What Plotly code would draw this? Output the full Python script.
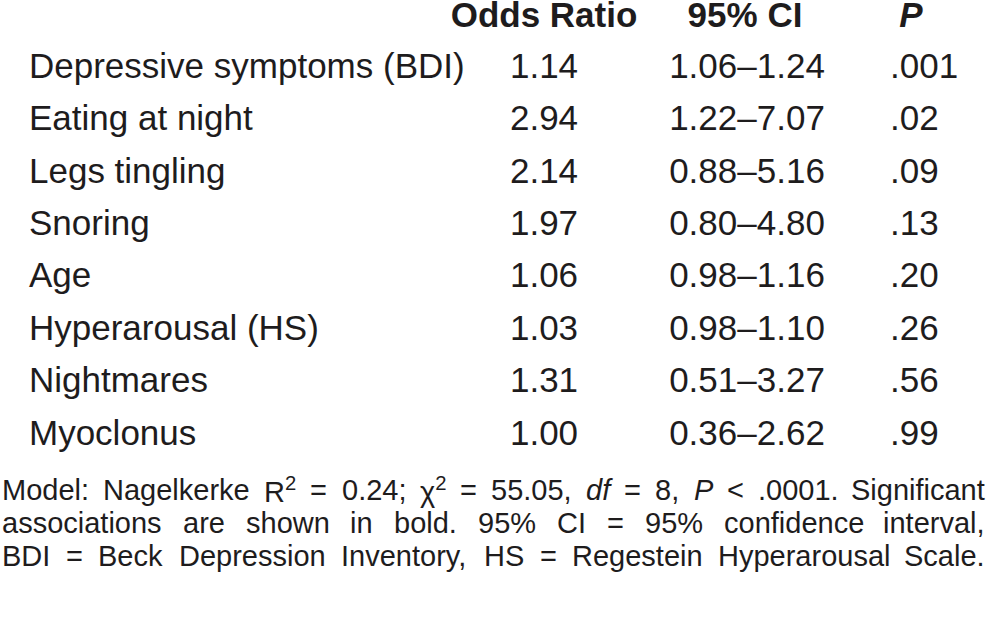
import re
import plotly.graph_objects as go

labels = ["Depressive symptoms (BDI)", "Eating at night", "Legs tingling", "Snoring",
          "Age", "Hyperarousal (HS)", "Nightmares", "Myoclonus"]
odds_ratio = [1.14, 2.94, 2.14, 1.97, 1.06, 1.03, 1.31, 1.00]
ci_low = [1.06, 1.22, 0.88, 0.80, 0.98, 0.98, 0.51, 0.36]
ci_high = [1.24, 7.07, 5.16, 4.80, 1.16, 1.10, 3.27, 2.62]
p_values = [".001", ".02", ".09", ".13", ".20", ".26", ".56", ".99"]
headers = ["Odds Ratio", "95% CI", "<i>P</i>"]

footnote_lines = [
    ["Model:", "Nagelkerke", "R<sup>2</sup>", "=", "0.24;", "χ<sup>2</sup>", "=", "55.05,",
     "<i>df</i>", "=", "8,", "<i>P</i>", "&lt;", ".0001.", "Significant"],
    ["associations", "are", "shown", "in", "bold.", "95%", "CI", "=", "95%", "confidence", "interval,"],
    ["BDI", "=", "Beck", "Depression", "Inventory,", "HS", "=", "Regestein", "Hyperarousal", "Scale."],
]

FONT = "Liberation Sans, Arial, sans-serif"
TXT = "#1e1c1d"
W, H = 989, 622
BODY = 35

rows = list(range(len(labels)))
ci_text = [f"{a:.2f}–{b:.2f}" for a, b in zip(ci_low, ci_high)]
or_text = [f"{v:.2f}" for v in odds_ratio]

fig = go.Figure()
tf = dict(family=FONT, size=BODY, color=TXT)
fig.add_trace(go.Scatter(x=[29] * len(rows), y=rows, text=labels, mode="text",
                         textposition="middle right", textfont=tf, hoverinfo="skip"))
fig.add_trace(go.Scatter(x=[544] * len(rows), y=rows, text=or_text, mode="text",
                         textposition="middle center", textfont=tf, hoverinfo="skip"))
fig.add_trace(go.Scatter(x=[747] * len(rows), y=rows, text=ci_text, mode="text",
                         textposition="middle center", textfont=tf, hoverinfo="skip"))
fig.add_trace(go.Scatter(x=[890] * len(rows), y=rows, text=p_values, mode="text",
                         textposition="middle right", textfont=tf, hoverinfo="skip"))
fig.add_trace(go.Scatter(x=[544, 745, 911], y=[-0.96, -0.96, -0.96],
                         text=[f"<b>{h}</b>" for h in headers], mode="text",
                         textposition="middle center", textfont=tf, hoverinfo="skip"))

# Arial / Liberation Sans advance widths (per em) for justifying the footnote
AW = {' ': .278, '.': .278, ',': .278, ':': .278, ';': .278, '=': .584, '<': .584, '%': .889,
      '0': .556, '1': .556, '2': .556, '3': .556, '4': .556, '5': .556, '6': .556, '7': .556,
      '8': .556, '9': .556, 'χ': .5,
      'A': .667, 'B': .667, 'C': .722, 'D': .722, 'E': .667, 'F': .611, 'G': .778, 'H': .722,
      'I': .278, 'J': .5, 'K': .667, 'L': .556, 'M': .833, 'N': .722, 'O': .778, 'P': .667,
      'Q': .778, 'R': .722, 'S': .667, 'T': .611, 'U': .722, 'V': .667, 'W': .944, 'X': .667,
      'Y': .667, 'Z': .611,
      'a': .556, 'b': .556, 'c': .5, 'd': .556, 'e': .556, 'f': .278, 'g': .556, 'h': .556,
      'i': .222, 'j': .222, 'k': .5, 'l': .222, 'm': .833, 'n': .556, 'o': .556, 'p': .556,
      'q': .556, 'r': .333, 's': .5, 't': .278, 'u': .556, 'v': .5, 'w': .722, 'x': .5,
      'y': .5, 'z': .5}


def word_width(html, size):
    w = 0.0
    for part in re.split(r"(<sup>.*?</sup>)", html):
        if part.startswith("<sup>"):
            w += sum(AW.get(c, .556) for c in part[5:-6]) * 0.7
        else:
            plain = re.sub(r"</?[bi]>", "", part).replace("&lt;", "<")
            w += sum(AW.get(c, .556) for c in plain)
    return w * size


FS = 29
line_y = [490, 523, 556]
LEFT, RIGHT = 1, 986
for words, py in zip(footnote_lines, line_y):
    widths = [word_width(w, FS) for w in words]
    gap = (RIGHT - LEFT - sum(widths)) / (len(words) - 1)
    x = LEFT
    for i, (w, wd) in enumerate(zip(words, widths)):
        last = i == len(words) - 1
        fig.add_annotation(x=RIGHT if last else x, y=1 - py / H, xref="x", yref="paper",
                           text=w, showarrow=False, xanchor="right" if last else "left",
                           yanchor="middle", borderpad=0,
                           font=dict(family=FONT, size=FS, color=TXT))
        x += wd + gap

TOP = 69  # pixel centre of first row
fig.update_layout(
    width=W, height=H, margin=dict(l=0, r=0, t=0, b=0),
    paper_bgcolor="white", plot_bgcolor="white", showlegend=False,
    xaxis=dict(range=[0, W], visible=False, fixedrange=True),
    yaxis=dict(range=[(H - TOP) / 52.4, -TOP / 52.4], visible=False, fixedrange=True),
)
fig.write_html("out.html", config={"displayModeBar": False},
               post_script="document.body.style.margin='0px';")
